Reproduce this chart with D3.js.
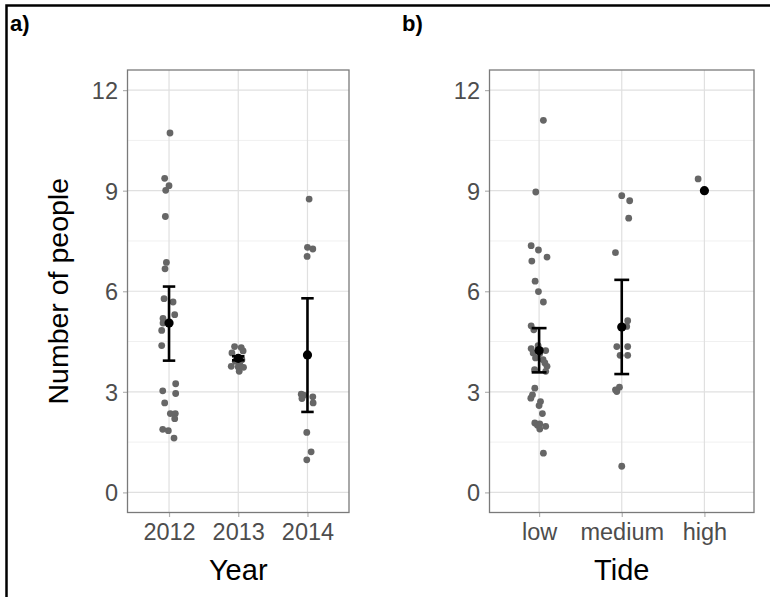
<meta charset="utf-8">

<!-- Load d3.js -->
<script src="https://d3js.org/d3.v7.min.js"></script>

<style>
  body { margin: 0; background: #fff; }
  text { font-family: "Liberation Sans", Arial, sans-serif; }
</style>

<div id="chart"></div>
<script>

// ---- data ----
// panel a: people counted per year (value, jitter in category units)
var years = ["2012", "2013", "2014"];
var yearPoints = [
  ["2012", 10.72, 0.014], ["2012", 9.37, -0.063], ["2012", 9.15, 0], ["2012", 9.01, -0.048],
  ["2012", 8.23, -0.053], ["2012", 6.86, -0.038], ["2012", 6.67, -0.058], ["2012", 5.78, -0.072],
  ["2012", 5.68, 0.058], ["2012", 5.30, 0.082], ["2012", 5.19, -0.087], ["2012", 5.05, -0.087],
  ["2012", 4.83, -0.106], ["2012", 4.38, -0.106], ["2012", 3.24, 0.096], ["2012", 3.03, -0.091],
  ["2012", 2.95, 0.096], ["2012", 2.67, -0.063], ["2012", 2.35, 0.019], ["2012", 2.35, 0.091],
  ["2012", 2.20, 0.082], ["2012", 1.88, -0.091], ["2012", 1.84, -0.01], ["2012", 1.62, 0.072],
  ["2013", 4.35, -0.053], ["2013", 4.32, 0.043], ["2013", 4.22, 0.07], ["2013", 4.16, -0.091],
  ["2013", 3.96, 0.053], ["2013", 3.91, -0.043], ["2013", 3.85, 0.02], ["2013", 3.76, -0.101],
  ["2013", 3.74, 0], ["2013", 3.73, 0.076], ["2013", 3.61, 0.014],
  ["2014", 8.75, 0.024], ["2014", 7.31, 0], ["2014", 7.26, 0.077], ["2014", 7.04, -0.005],
  ["2014", 2.93, -0.09], ["2014", 2.90, -0.055], ["2014", 2.80, -0.08], ["2014", 2.85, 0.077],
  ["2014", 2.67, 0.082], ["2014", 1.79, -0.01], ["2014", 1.21, 0.053], ["2014", 0.97, -0.01]
];
var yearMeans = [5.05, 4.00, 4.10];
var yearLower = [3.93, 3.94, 2.40];
var yearUpper = [6.14, 4.06, 5.79];

// panel b: people counted per tide
var tides = ["low", "medium", "high"];
var tidePoints = [
  ["low", 11.1, 0.052], ["low", 8.96, -0.04], ["low", 7.36, -0.096], ["low", 7.23, -0.008],
  ["low", 7.02, 0.096], ["low", 6.90, -0.088], ["low", 6.30, -0.048], ["low", 5.99, -0.008],
  ["low", 5.68, 0.052], ["low", 4.97, -0.096], ["low", 4.85, -0.064], ["low", 4.38, -0.012],
  ["low", 4.29, -0.096], ["low", 4.23, 0.080], ["low", 4.16, -0.072], ["low", 4.14, 0.008],
  ["low", 4.01, -0.043], ["low", 3.96, 0.048], ["low", 3.86, 0.07], ["low", 3.76, 0.096],
  ["low", 3.66, -0.055], ["low", 3.61, 0.08], ["low", 3.11, -0.052], ["low", 2.91, -0.08],
  ["low", 2.81, -0.10], ["low", 2.71, 0.017], ["low", 2.59, 0], ["low", 2.35, 0.04],
  ["low", 2.07, -0.052], ["low", 2.04, 0.008], ["low", 2.00, -0.02], ["low", 1.97, 0.08],
  ["low", 1.89, 0.008], ["low", 1.17, 0.052],
  ["medium", 8.85, 0], ["medium", 8.70, 0.096], ["medium", 8.18, 0.084], ["medium", 7.15, -0.076],
  ["medium", 5.12, 0.072], ["medium", 4.95, 0.06], ["medium", 4.35, -0.06], ["medium", 4.35, 0.072],
  ["medium", 4.09, -0.02], ["medium", 4.09, 0.072], ["medium", 3.14, -0.028], ["medium", 3.06, -0.076],
  ["medium", 3.01, -0.06], ["medium", 0.78, 0],
  ["high", 9.35, -0.076]
];
var tideMeans = [4.23, 4.93, 9.00];
var tideLower = [3.58, 3.53, null];
var tideUpper = [4.90, 6.34, null];

var yTicks = [0, 3, 6, 9, 12];
var yMinor = [1.5, 4.5, 7.5, 10.5];

// ---- canvas ----
var svg = d3.select("#chart")
  .append("svg")
    .attr("width", 770)
    .attr("height", 597);

// outer frame (runs off the right and bottom edge)
svg.append("rect")
    .attr("x", 6.5).attr("y", 5.5)
    .attr("width", 800).attr("height", 620)
    .attr("fill", "none")
    .attr("stroke", "#000")
    .attr("stroke-width", 2.5);

function drawPanel(opts) {
  var top = 70, bottom = 512.5;
  var g = svg.append("g");

  var x = d3.scalePoint()
    .domain(opts.cats)
    .range([opts.left, opts.right])
    .padding(0.6);
  var step = x.step();

  var y = d3.scaleLinear()
    .domain([-0.6, 12.6])
    .range([bottom, top]);

  // grid
  g.selectAll(".minor").data(yMinor).enter().append("line")
    .attr("x1", opts.left).attr("x2", opts.right)
    .attr("y1", function(d) { return y(d); }).attr("y2", function(d) { return y(d); })
    .attr("stroke", "#F0F0F0").attr("stroke-width", 1);
  g.selectAll(".major").data(yTicks).enter().append("line")
    .attr("x1", opts.left).attr("x2", opts.right)
    .attr("y1", function(d) { return y(d); }).attr("y2", function(d) { return y(d); })
    .attr("stroke", "#E0E0E0").attr("stroke-width", 1.2);
  g.selectAll(".vgrid").data(opts.cats).enter().append("line")
    .attr("x1", function(d) { return x(d); }).attr("x2", function(d) { return x(d); })
    .attr("y1", top).attr("y2", bottom)
    .attr("stroke", "#E0E0E0").attr("stroke-width", 1.2);

  // axes
  var yAxis = g.append("g")
    .attr("transform", "translate(" + opts.left + ",0)")
    .call(d3.axisLeft(y).tickValues(yTicks).tickSize(4.5).tickPadding(5));
  var xAxis = g.append("g")
    .attr("transform", "translate(0," + bottom + ")")
    .call(d3.axisBottom(x).tickSize(4.5).tickPadding(5));
  [yAxis, xAxis].forEach(function(a) {
    a.select(".domain").remove();
    a.selectAll(".tick line").attr("stroke", "#B3B3B3").attr("stroke-width", 1.2);
    a.selectAll(".tick text")
      .attr("fill", "#4D4D4D")
      .style("font-size", "23.5px")
      .style("font-family", "'Liberation Sans', Arial, sans-serif");
  });
  yAxis.selectAll(".tick text").attr("dy", "0.36em");
  xAxis.selectAll(".tick text").attr("dy", "0.75em");

  // panel border
  g.append("rect")
    .attr("x", opts.left).attr("y", top)
    .attr("width", opts.right - opts.left).attr("height", bottom - top)
    .attr("fill", "none")
    .attr("stroke", "#7A7A7A")
    .attr("stroke-width", 1.3);

  // raw points
  g.append("g").selectAll("circle")
    .data(opts.points)
    .enter().append("circle")
      .attr("cx", function(d) { return x(d[0]) + d[2] * step; })
      .attr("cy", function(d) { return y(d[1]); })
      .attr("r", 3.4)
      .attr("fill", "#666666");

  // error bars
  var bars = opts.cats.map(function(c, i) {
    return {cat: c, mean: opts.means[i], lo: opts.lower[i], hi: opts.upper[i]};
  });
  var eb = g.append("g").selectAll("g")
    .data(bars.filter(function(d) { return d.lo != null; }))
    .enter().append("g")
      .attr("stroke", "#000")
      .attr("stroke-width", 2.6);
  eb.append("line")
    .attr("x1", function(d) { return x(d.cat); }).attr("x2", function(d) { return x(d.cat); })
    .attr("y1", function(d) { return y(d.lo); }).attr("y2", function(d) { return y(d.hi); });
  eb.append("line")
    .attr("x1", function(d) { return x(d.cat) - 0.09 * step; })
    .attr("x2", function(d) { return x(d.cat) + 0.09 * step; })
    .attr("y1", function(d) { return y(d.lo); }).attr("y2", function(d) { return y(d.lo); });
  eb.append("line")
    .attr("x1", function(d) { return x(d.cat) - 0.09 * step; })
    .attr("x2", function(d) { return x(d.cat) + 0.09 * step; })
    .attr("y1", function(d) { return y(d.hi); }).attr("y2", function(d) { return y(d.hi); });

  // means
  g.append("g").selectAll("circle")
    .data(bars)
    .enter().append("circle")
      .attr("cx", function(d) { return x(d.cat); })
      .attr("cy", function(d) { return y(d.mean); })
      .attr("r", 4.6)
      .attr("fill", "#000");

  // x title
  g.append("text")
    .attr("x", (opts.left + opts.right) / 2)
    .attr("y", 580)
    .attr("text-anchor", "middle")
    .style("font-size", "29px")
    .text(opts.xTitle);

  // panel tag
  g.append("text")
    .attr("x", opts.tagX)
    .attr("y", 31)
    .style("font-size", "22px")
    .style("font-weight", "bold")
    .text(opts.tag);

  return y;
}

drawPanel({
  cats: years, points: yearPoints, means: yearMeans, lower: yearLower, upper: yearUpper,
  left: 127.5, right: 349, xTitle: "Year", tag: "a)", tagX: 10
});
drawPanel({
  cats: tides, points: tidePoints, means: tideMeans, lower: tideLower, upper: tideUpper,
  left: 489.5, right: 754, xTitle: "Tide", tag: "b)", tagX: 402
});

// y title on the left panel
svg.append("text")
    .attr("transform", "translate(68," + ((70 + 512.5) / 2) + ") rotate(-90)")
    .attr("text-anchor", "middle")
    .style("font-size", "28.5px")
    .text("Number of people");

</script>
